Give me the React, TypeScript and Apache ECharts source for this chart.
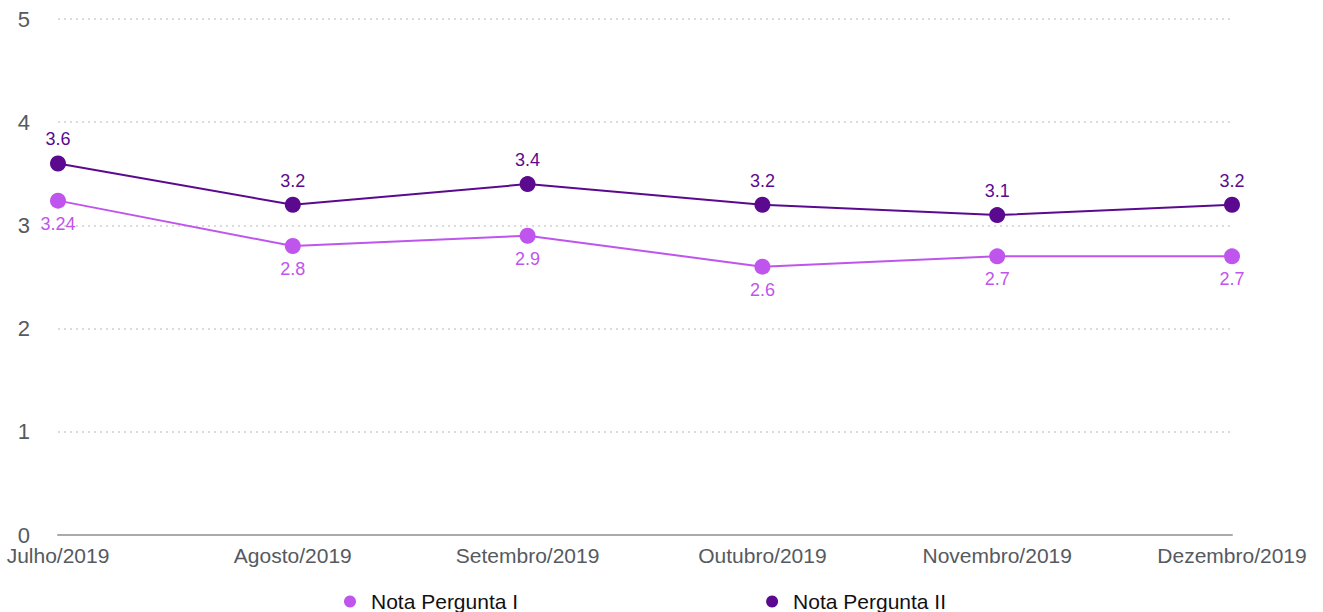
import React, { useEffect, useRef } from "react";
import * as echarts from "echarts";

const categories = ["Julho/2019", "Agosto/2019", "Setembro/2019", "Outubro/2019", "Novembro/2019", "Dezembro/2019"];
const seriesNames = ["Nota Pergunta I", "Nota Pergunta II"];
const perguntaI = [3.24, 2.8, 2.9, 2.6, 2.7, 2.7];
const perguntaII = [3.6, 3.2, 3.4, 3.2, 3.1, 3.2];
const colors = ["#bf55ec", "#5b0a8f"];

export default function App() {
  const ref = useRef<HTMLDivElement>(null);
  useEffect(() => {
    if (!ref.current) return;
    const chart = echarts.init(ref.current, null, { renderer: "svg" });
    const font = "Liberation Sans, Arial, Helvetica, sans-serif";
    chart.setOption({
      animation: false,
      textStyle: { fontFamily: font },
      grid: { left: 58, right: 91, top: 19, bottom: 77, containLabel: false },
      legend: {
        data: seriesNames.map((n) => ({ name: n, icon: "circle" })),
        left: 344,
        top: 591,
        itemGap: 248,
        itemWidth: 12,
        itemHeight: 12,
        padding: 0,
        textStyle: { fontSize: 21, color: "#111", fontFamily: font, padding: [0, 0, 0, 10] },
      },
      xAxis: {
        type: "category",
        data: categories,
        boundaryGap: false,
        axisLine: { show: true, lineStyle: { color: "#aaaaaa", width: 2 } },
        axisTick: { show: false },
        axisLabel: { color: "#555a60", fontSize: 21, margin: 10, fontFamily: font },
        splitLine: { show: false },
      },
      yAxis: {
        type: "value",
        min: 0,
        max: 5,
        interval: 1,
        axisLine: { show: false },
        axisTick: { show: false },
        axisLabel: { color: "#555a60", fontSize: 22, margin: 28, fontFamily: font },
        splitLine: { show: true, lineStyle: { color: "#cfcfcf", type: [2, 4], width: 1.5 } },
      },
      series: [
        {
          name: seriesNames[0],
          type: "line",
          data: perguntaI,
          color: colors[0],
          symbol: "circle",
          symbolSize: 16,
          lineStyle: { width: 2, color: colors[0] },
          itemStyle: { color: colors[0] },
          label: { show: true, position: "bottom", distance: 6, color: colors[0], fontSize: 18, fontFamily: font },
        },
        {
          name: seriesNames[1],
          type: "line",
          data: perguntaII,
          color: colors[1],
          symbol: "circle",
          symbolSize: 16,
          lineStyle: { width: 2, color: colors[1] },
          itemStyle: { color: colors[1] },
          label: { show: true, position: "top", distance: 7, color: colors[1], fontSize: 18, fontFamily: font },
        },
      ],
    });
    return () => chart.dispose();
  }, []);
  return (
    <div
      ref={ref}
      style={{ position: "fixed", left: 0, top: 0, width: 1323, height: 612, background: "#fff" }}
    />
  );
}
